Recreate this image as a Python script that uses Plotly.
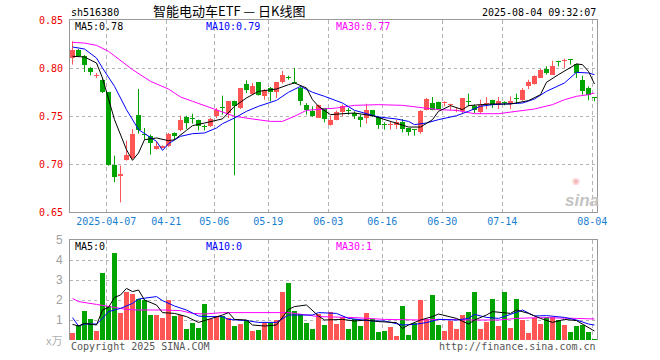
import plotly.graph_objects as go

# ---------------- data ----------------
opens = [0.8104, 0.8191, 0.8128, 0.8003, 0.7915, 0.7878, 0.7747, 0.6993, 0.6872, 0.7038,
         0.7063, 0.7514, 0.7313, 0.7288, 0.7156, 0.7170, 0.7184, 0.7323, 0.7351, 0.7490,
         0.7470, 0.7462, 0.7390, 0.7399, 0.7497, 0.7587, 0.7531, 0.7660, 0.7583, 0.7837,
         0.7733, 0.7851, 0.7705, 0.7792, 0.7747, 0.7851, 0.7906, 0.7851, 0.7792, 0.7618,
         0.7549, 0.7479, 0.7583, 0.7410, 0.7462, 0.7538, 0.7556, 0.7531, 0.7490, 0.7479,
         0.7560, 0.7490, 0.7410, 0.7406, 0.7410, 0.7434, 0.7375, 0.7354, 0.7330, 0.7566,
         0.7635, 0.7642, 0.7635, 0.7611, 0.7555, 0.7549, 0.7656, 0.7608, 0.7538, 0.7620,
         0.7670, 0.7618, 0.7639, 0.7628, 0.7681, 0.7670, 0.7816, 0.7833, 0.7896, 0.7993,
         0.7931, 0.8076, 0.8069, 0.8083, 0.8045, 0.7878, 0.7792, 0.7688]
highs = [0.8278, 0.8198, 0.8135, 0.8010, 0.7948, 0.7885, 0.7750, 0.7087, 0.6983, 0.7243,
         0.7365, 0.7781, 0.7375, 0.7306, 0.7236, 0.7194, 0.7323, 0.7330, 0.7503, 0.7503,
         0.7524, 0.7462, 0.7410, 0.7480, 0.7583, 0.7712, 0.7653, 0.7660, 0.7792, 0.7872,
         0.7844, 0.7851, 0.7781, 0.7802, 0.7851, 0.7972, 0.7920, 0.8000, 0.7809, 0.7635,
         0.7600, 0.7618, 0.7583, 0.7503, 0.7556, 0.7618, 0.7583, 0.7549, 0.7514, 0.7628,
         0.7560, 0.7497, 0.7434, 0.7441, 0.7462, 0.7469, 0.7375, 0.7365, 0.7560, 0.7688,
         0.7698, 0.7650, 0.7653, 0.7628, 0.7583, 0.7688, 0.7733, 0.7618, 0.7670, 0.7698,
         0.7670, 0.7698, 0.7653, 0.7705, 0.7733, 0.7792, 0.7878, 0.7924, 0.7990, 0.8017,
         0.8076, 0.8076, 0.8097, 0.8083, 0.8045, 0.7920, 0.7809, 0.7688]
lows = [0.8035, 0.8122, 0.7958, 0.7924, 0.7896, 0.7740, 0.6983, 0.6809, 0.6600, 0.7035,
        0.7052, 0.7316, 0.7253, 0.7097, 0.7149, 0.7163, 0.7177, 0.7253, 0.7340, 0.7365,
        0.7420, 0.7350, 0.7350, 0.7385, 0.7479, 0.7514, 0.7479, 0.6882, 0.7573, 0.7740,
        0.7722, 0.7712, 0.7670, 0.7653, 0.7688, 0.7837, 0.7878, 0.7840, 0.7611, 0.7514,
        0.7490, 0.7479, 0.7434, 0.7400, 0.7455, 0.7497, 0.7514, 0.7469, 0.7385, 0.7420,
        0.7490, 0.7365, 0.7358, 0.7358, 0.7365, 0.7330, 0.7295, 0.7295, 0.7316, 0.7559,
        0.7559, 0.7566, 0.7601, 0.7559, 0.7540, 0.7524, 0.7600, 0.7531, 0.7524, 0.7573,
        0.7583, 0.7573, 0.7611, 0.7573, 0.7628, 0.7660, 0.7781, 0.7826, 0.7896, 0.7931,
        0.7931, 0.8017, 0.8000, 0.8035, 0.7896, 0.7722, 0.7663, 0.7653]
closes = [0.8191, 0.8128, 0.8028, 0.7955, 0.7920, 0.7750, 0.6993, 0.6865, 0.6900, 0.7097,
          0.7313, 0.7351, 0.7306, 0.7219, 0.7190, 0.7184, 0.7313, 0.7288, 0.7462, 0.7427,
          0.7465, 0.7392, 0.7385, 0.7469, 0.7566, 0.7583, 0.7653, 0.7601, 0.7792, 0.7767,
          0.7816, 0.7722, 0.7774, 0.7747, 0.7851, 0.7924, 0.7899, 0.7844, 0.7660, 0.7566,
          0.7503, 0.7618, 0.7469, 0.7462, 0.7538, 0.7600, 0.7549, 0.7497, 0.7455, 0.7566,
          0.7503, 0.7410, 0.7406, 0.7410, 0.7434, 0.7365, 0.7330, 0.7350, 0.7549, 0.7677,
          0.7566, 0.7573, 0.7646, 0.7618, 0.7560, 0.7688, 0.7649, 0.7559, 0.7618, 0.7626,
          0.7618, 0.7653, 0.7635, 0.7653, 0.7677, 0.7767, 0.7851, 0.7913, 0.7976, 0.7948,
          0.8017, 0.8059, 0.8087, 0.8080, 0.7948, 0.7757, 0.7722, 0.7684]
volumes = [0.37, 0.75, 1.47, 1.03, 0.47, 3.33, 1.70, 4.33, 1.37, 2.42,
           2.30, 2.03, 2.00, 1.25, 1.25, 1.12, 2.00, 1.20, 1.25, 0.55,
           0.83, 0.62, 1.80, 1.03, 1.20, 1.20, 1.08, 0.70, 0.80, 1.00,
           0.47, 0.50, 0.87, 0.87, 1.00, 2.42, 2.87, 1.47, 1.30, 0.87,
           0.53, 1.30, 0.75, 1.38, 0.80, 1.13, 0.53, 1.03, 0.70, 1.37,
           1.05, 0.42, 0.47, 0.67, 0.22, 1.70, 0.25, 0.83, 2.00, 1.05,
           2.25, 0.75, 0.47, 0.97, 0.55, 1.25, 1.42, 2.42, 0.55, 0.92,
           2.05, 0.70, 2.42, 0.62, 2.05, 1.00, 0.37, 1.12, 0.80, 1.17,
           1.17, 1.00, 0.75, 0.42, 0.72, 0.75, 0.42, 0.05]

# moving averages: (day number 1-based, value)
ma5_day = [1, 3, 5, 6, 8, 10, 11, 12, 13, 15, 17, 18, 20, 21, 23, 26, 28, 30, 32, 35, 37, 38, 40, 41, 42, 44,
           46, 48, 51, 53, 55, 57, 59, 61, 62, 64, 66, 67, 69, 71, 74, 75, 77, 79, 80, 82, 84, 85, 86, 87, 88]
ma5_val = [0.8122, 0.8115, 0.8052, 0.7896, 0.7462, 0.7149, 0.7038, 0.7115, 0.7253, 0.7271, 0.7243, 0.7253,
           0.7351, 0.7399, 0.7427, 0.7470, 0.7601, 0.7688, 0.7757, 0.7781, 0.7826, 0.7844, 0.7792, 0.7670,
           0.7601, 0.7514, 0.7524, 0.7531, 0.7503, 0.7462, 0.7427, 0.7385, 0.7385, 0.7462, 0.7549, 0.7608,
           0.7566, 0.7608, 0.7618, 0.7625, 0.7625, 0.7635, 0.7660, 0.7722, 0.7851, 0.7931, 0.8000, 0.8042,
           0.8035, 0.7965, 0.7833]
ma10_day = [1, 3, 5, 6, 8, 10, 12, 15, 16, 17, 19, 21, 23, 25, 26, 28, 30, 32, 35, 37, 39, 41, 43, 46, 48,
            50, 52, 55, 57, 58, 60, 62, 65, 67, 69, 71, 74, 76, 78, 80, 83, 84, 85, 87, 88]
ma10_val = [0.8219, 0.8198, 0.8104, 0.8000, 0.7809, 0.7566, 0.7358, 0.7236, 0.7142, 0.7212, 0.7288, 0.7316,
            0.7323, 0.7375, 0.7420, 0.7479, 0.7549, 0.7601, 0.7663, 0.7747, 0.7809, 0.7747, 0.7705, 0.7635,
            0.7559, 0.7524, 0.7490, 0.7469, 0.7444, 0.7410, 0.7427, 0.7462, 0.7503, 0.7549, 0.7601, 0.7618,
            0.7625, 0.7635, 0.7677, 0.7757, 0.7844, 0.7903, 0.7955, 0.7948, 0.7931]
ma30_day = [1, 3, 5, 7, 11, 14, 17, 19, 21, 23, 26, 28, 31, 34, 36, 38, 40, 42, 45, 48, 52, 56, 58, 60, 62,
            65, 68, 72, 75, 78, 81, 83, 85, 87, 88]
ma30_val = [0.8267, 0.8260, 0.8236, 0.8174, 0.7983, 0.7861, 0.7781, 0.7698, 0.7653, 0.7608, 0.7538, 0.7497,
            0.7469, 0.7444, 0.7444, 0.7497, 0.7559, 0.7566, 0.7583, 0.7611, 0.7618, 0.7611, 0.7594, 0.7583,
            0.7566, 0.7559, 0.7524, 0.7524, 0.7549, 0.7573, 0.7618, 0.7670, 0.7705, 0.7722, 0.7740]

vma5_day = [1, 2, 3, 5, 6, 7, 8, 9, 10, 11, 12, 13, 15, 16, 18, 20, 22, 23, 26, 27, 28, 30, 31, 33, 35, 37,
            38, 40, 42, 43, 46, 48, 50, 52, 55, 56, 57, 59, 61, 62, 65, 67, 68, 70, 71, 74, 75, 77, 79, 81,
            83, 85, 87, 88]
vma5_val = [0.78, 0.70, 0.83, 0.75, 1.50, 1.63, 2.13, 2.25, 2.58, 2.42, 2.50, 2.00, 1.75, 1.37, 1.33, 1.17,
            0.88, 0.97, 1.25, 1.37, 1.03, 1.00, 0.75, 0.70, 0.75, 1.53, 1.67, 1.75, 1.20, 1.00, 1.03, 0.95,
            1.00, 0.92, 0.87, 0.58, 0.75, 1.00, 1.17, 1.30, 1.08, 0.80, 1.00, 1.25, 1.42, 1.33, 1.50, 1.33,
            1.08, 0.88, 1.03, 0.97, 0.63, 0.45]
vma10_day = [1, 2, 3, 5, 6, 7, 9, 11, 12, 15, 16, 18, 20, 22, 23, 26, 27, 30, 32, 35, 37, 39, 41, 42, 45,
             47, 49, 51, 53, 56, 58, 60, 62, 65, 67, 68, 70, 72, 74, 76, 78, 80, 83, 85, 87, 88]
vma10_val = [1.12, 0.70, 0.80, 0.80, 1.08, 1.42, 1.58, 1.83, 2.05, 2.17, 1.97, 1.70, 1.50, 1.20, 1.17,
             1.17, 1.03, 0.97, 0.88, 0.88, 1.25, 1.25, 1.25, 1.37, 1.33, 1.08, 1.00, 0.95, 0.95, 0.75,
             0.78, 0.87, 1.03, 1.00, 1.08, 1.28, 1.13, 1.08, 1.28, 1.50, 1.20, 1.22, 1.13, 1.00, 0.80, 0.75]
vma30_day = [1, 2, 5, 7, 8, 10, 12, 16, 19, 21, 23, 26, 31, 37, 40, 42, 48, 53, 59, 62, 68, 72, 75, 79, 85, 88]
vma30_val = [2.08, 1.92, 1.78, 1.70, 1.63, 1.53, 1.50, 1.50, 1.47, 1.33, 1.30, 1.37, 1.37, 1.37, 1.25, 1.17,
             1.12, 1.03, 1.00, 1.03, 1.00, 1.00, 1.08, 1.12, 1.08, 1.05]

tick_days = [7, 17, 25, 34, 44, 53, 63, 73, 88]
tick_labels = ["2025-04-07", "04-21", "05-06", "05-19", "06-03", "06-16", "06-30", "07-14", "08-04"]
price_ticks = [0.65, 0.70, 0.75, 0.80, 0.85]
vol_ticks = [1, 2, 3, 4, 5]

# ---------------- styling ----------------
W, H = 660, 360
RED = "#ff5555"
GREEN = "#00a400"
MONO = "DejaVu Sans Mono"
L, R = 70, 597
P_TOP, P_BOT = 20, 212
V_TOP, V_BOT = 240, 340

def fx(px):
    return px / W

def fy(py):
    return 1 - py / H

n = len(closes)
idx = list(range(n))
up = [c >= o for o, c in zip(opens, closes)]
colors = [RED if u else GREEN for u in up]
bases = [min(o, c) for o, c in zip(opens, closes)]
heights = [max(abs(c - o), 0.0011) for o, c in zip(opens, closes)]

fig = go.Figure()

# wicks
for flag, col in ((True, RED), (False, GREEN)):
    wx, wy = [], []
    for i in idx:
        if up[i] == flag:
            wx += [i, i, None]
            wy += [lows[i], highs[i], None]
    fig.add_trace(go.Scatter(x=wx, y=wy, mode="lines", line=dict(color=col, width=1),
                             hoverinfo="skip", showlegend=False, xaxis="x", yaxis="y"))

# bodies
fig.add_trace(go.Bar(x=idx, y=heights, base=bases, width=0.84, marker=dict(color=colors, line=dict(width=0)),
                     showlegend=False, xaxis="x", yaxis="y"))

# price MAs
for days, vals, col in ((ma30_day, ma30_val, "#ff00ff"), (ma10_day, ma10_val, "#0000ff"),
                        (ma5_day, ma5_val, "#000000")):
    fig.add_trace(go.Scatter(x=[d - 1 for d in days], y=vals, mode="lines",
                             line=dict(color=col, width=1), showlegend=False, xaxis="x", yaxis="y"))

# volume bars
fig.add_trace(go.Bar(x=idx, y=volumes, width=0.84, marker=dict(color=colors, line=dict(width=0)),
                     showlegend=False, xaxis="x2", yaxis="y2"))
for days, vals, col in ((vma30_day, vma30_val, "#ff00ff"), (vma10_day, vma10_val, "#0000ff"),
                        (vma5_day, vma5_val, "#000000")):
    fig.add_trace(go.Scatter(x=[d - 1 for d in days], y=vals, mode="lines",
                             line=dict(color=col, width=1), showlegend=False, xaxis="x2", yaxis="y2"))

xr = [-0.417, 87.42]
tickpos = [d - 1 - 0.37 for d in tick_days]

fig.update_layout(
    width=W, height=H, margin=dict(l=0, r=0, t=0, b=0),
    paper_bgcolor="white", plot_bgcolor="white", showlegend=False, bargap=0,
    xaxis=dict(domain=[fx(L), fx(R)], range=xr, tickvals=tickpos, ticktext=tick_labels,
               tickfont=dict(family=MONO, size=10, color="#1a80d0"), ticks="",
               showgrid=True, gridcolor="#b4b4b4", griddash="4px,3px", gridwidth=1,
               showline=True, linecolor="#999999", linewidth=1, mirror=True, zeroline=False,
               fixedrange=True, automargin=False),
    yaxis=dict(domain=[fy(P_BOT), fy(P_TOP)], range=[0.65, 0.85], tickvals=price_ticks,
               ticktext=["%.2f" % v for v in price_ticks],
               tickfont=dict(family=MONO, size=10, color="#ee0000"), ticks="", ticklabelstandoff=4,
               showgrid=True, gridcolor="#b4b4b4", griddash="dot", gridwidth=1,
               showline=True, linecolor="#999999", linewidth=1, mirror=True, zeroline=False,
               automargin=False),
    xaxis2=dict(domain=[fx(L), fx(R)], range=xr, tickvals=tickpos, showticklabels=False, ticks="",
                showgrid=True, gridcolor="#b4b4b4", griddash="4px,3px", gridwidth=1,
                showline=True, side="top", linecolor="#999999", linewidth=1, mirror=False,
                zeroline=False, anchor="y2", automargin=False),
    yaxis2=dict(domain=[fy(V_BOT), fy(V_TOP)], range=[0, 5], tickvals=vol_ticks,
                ticktext=[str(v) for v in vol_ticks],
                tickfont=dict(family="Liberation Sans", size=12, color="#a0a0a0"), ticks="",
                ticklabelstandoff=4,
                showgrid=True, gridcolor="#b4b4b4", griddash="dot", gridwidth=1,
                showline=True, linecolor="#999999", linewidth=1, mirror=True, zeroline=False,
                anchor="x2", automargin=False),
)

def ann(text, x, y, color="#000000", size=10, family=MONO, xanchor="left", **kw):
    fig.add_annotation(text=text, x=fx(x), y=fy(y), xref="paper", yref="paper", showarrow=False,
                       xanchor=xanchor, yanchor="middle", font=dict(family=family, size=size, color=color), **kw)

ann("sh516380", 69, 13)
ann("智能电动车ETF — 日K线图", 229, 10, size=13, family="Noto Sans CJK SC", xanchor="center")
ann("2025-08-04 09:32:07", 598, 13, xanchor="right")
ann("MA5:0.78", 73, 27)
ann("MA10:0.79", 204, 27, color="#0000ff")
ann("MA30:0.77", 334, 27, color="#ff00ff")
ann("MA5:0", 73, 246)
ann("MA10:0", 204, 246, color="#0000ff")
ann("MA30:1", 334, 246, color="#ff00ff")
ann("x万", 64, 340, color="#b0b0b0", size=11, family="Noto Sans CJK SC", xanchor="right")
ann("Copyright 2025 SINA.COM", 69, 346, color="#555555")
ann("http://finance.sina.com.cn", 598, 346, color="#555555", xanchor="right")
ann("<i><b>sina</b></i>", 582, 200, color="#c4c4c4", size=17, family="Liberation Sans", xanchor="center")
ann("◉", 576, 181, color="#f4b8b8", size=9, family="DejaVu Sans", xanchor="center")

fig.write_html("out.html", post_script="document.body.style.margin='0px';",
               config={"displayModeBar": False, "staticPlot": True})
